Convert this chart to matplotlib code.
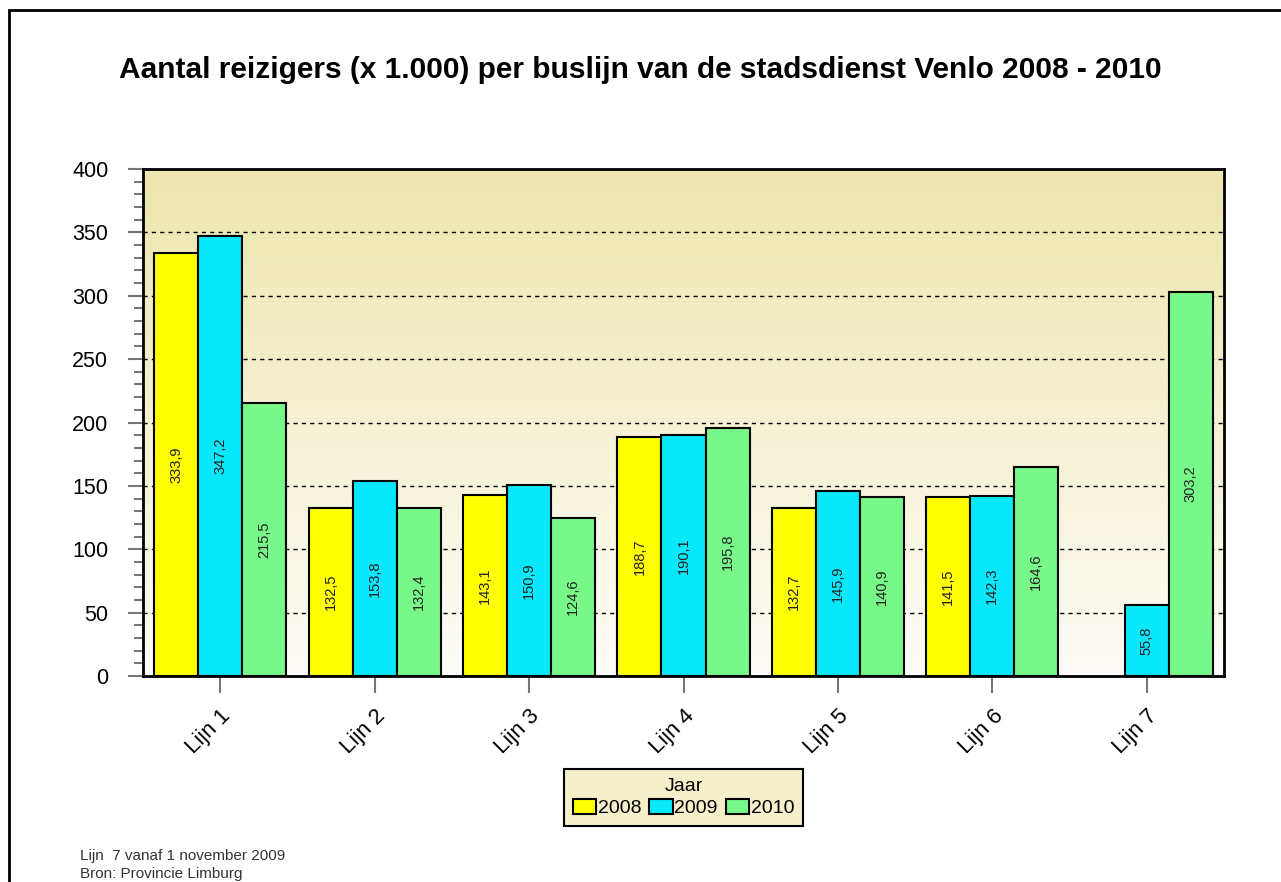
import numpy as np
import matplotlib
matplotlib.use('Agg')
import matplotlib.pyplot as plt
from matplotlib.patches import Rectangle, Patch
from matplotlib.colors import LinearSegmentedColormap

plt.rcParams['font.family'] = ['Liberation Sans', 'DejaVu Sans']

lijnen = ['Lijn 1', 'Lijn 2', 'Lijn 3', 'Lijn 4', 'Lijn 5', 'Lijn 6', 'Lijn 7']
jaren = ['2008', '2009', '2010']
v2008 = [333.9, 132.5, 143.1, 188.7, 132.7, 141.5, None]
v2009 = [347.2, 153.8, 150.9, 190.1, 145.9, 142.3, 55.8]
v2010 = [215.5, 132.4, 124.6, 195.8, 140.9, 164.6, 303.2]
kleuren = ['#ffff00', '#08e8fa', '#78f888']

fig = plt.figure(figsize=(12.81, 8.82), dpi=100)
fig.patch.set_facecolor('white')

# kader rond de figuur
fig.patches.append(Rectangle((9 / 1281, -0.1), 1.2, 1 - 10 / 882 + 0.1,
                             transform=fig.transFigure, fill=False,
                             edgecolor='black', linewidth=2))

ax = fig.add_axes([143 / 1281, 1 - 676 / 882, (1224 - 143) / 1281, (676 - 169) / 882])

# achtergrond met verloop
cmap = LinearSegmentedColormap.from_list('bg', ['#fdfcf8', '#ede6ae'])
grad = np.linspace(0, 1, 256).reshape(-1, 1)
ax.imshow(grad, aspect='auto', cmap=cmap, origin='lower',
          extent=[-0.5, len(lijnen) - 0.5, 0, 400], zorder=0)

x = np.arange(len(lijnen))
w = 0.285
for k, (vals, kleur) in enumerate(zip([v2008, v2009, v2010], kleuren)):
    for i, v in enumerate(vals):
        if v is None:
            continue
        xi = x[i] + (k - 1) * w
        ax.bar(xi, v, width=w, color=kleur, edgecolor='black', linewidth=1.5, zorder=3)
        ax.text(xi, v / 2, format(v, '.1f').replace('.', ','), rotation=90,
                ha='center', va='center', fontsize=10.5, color='#222222', zorder=4)

ax.set_xlim(-0.5, len(lijnen) - 0.5)
ax.set_ylim(0, 400)
ax.set_yticks(np.arange(0, 401, 50))
ax.set_yticks(np.arange(0, 401, 10), minor=True)
ax.yaxis.grid(True, which='major', linestyle=(0, (3, 3)), color='black', linewidth=1, zorder=1)
ax.set_axisbelow(True)
ax.set_xticks(x)
ax.set_xticklabels(lijnen, rotation=45, ha='right', rotation_mode='anchor', fontsize=16)
ax.tick_params(axis='y', which='major', length=11, width=1.5, color='#777777', labelsize=15.5, pad=14)
ax.tick_params(axis='y', which='minor', length=6.5, width=1.5, color='#777777')
ax.tick_params(axis='x', length=12, width=1.5, color='#777777', pad=9)
for s in ax.spines.values():
    s.set_linewidth(2)
    s.set_color('black')

fig.text(0.5, 1 - 70 / 882, 'Aantal reizigers (x 1.000) per buslijn van de stadsdienst Venlo 2008 - 2010',
         ha='center', va='center', fontsize=21.5, fontweight='bold')

handles = [Patch(facecolor=c, edgecolor='black', linewidth=1.5) for c in kleuren]
leg = fig.legend(handles, jaren, title='Jaar', ncol=3, loc='center',
                 bbox_to_anchor=(683.5 / 1281, 1 - 797.5 / 882), fontsize=14, title_fontsize=14,
                 handlelength=1.2, handleheight=0.8, handletextpad=0.1, columnspacing=0.4,
                 frameon=True, fancybox=False, borderpad=0.45, labelspacing=0.2)
leg.get_frame().set_facecolor('#f5efca')
leg.get_frame().set_edgecolor('black')
leg.get_frame().set_linewidth(1.5)
leg.get_frame().set_alpha(1)

fig.text(80 / 1281, 1 - 856 / 882, 'Lijn  7 vanaf 1 november 2009', fontsize=11, color='#333333', va='center')
fig.text(80 / 1281, 1 - 874 / 882, 'Bron: Provincie Limburg', fontsize=11, color='#333333', va='center')

fig.savefig('out.png', dpi=100)
